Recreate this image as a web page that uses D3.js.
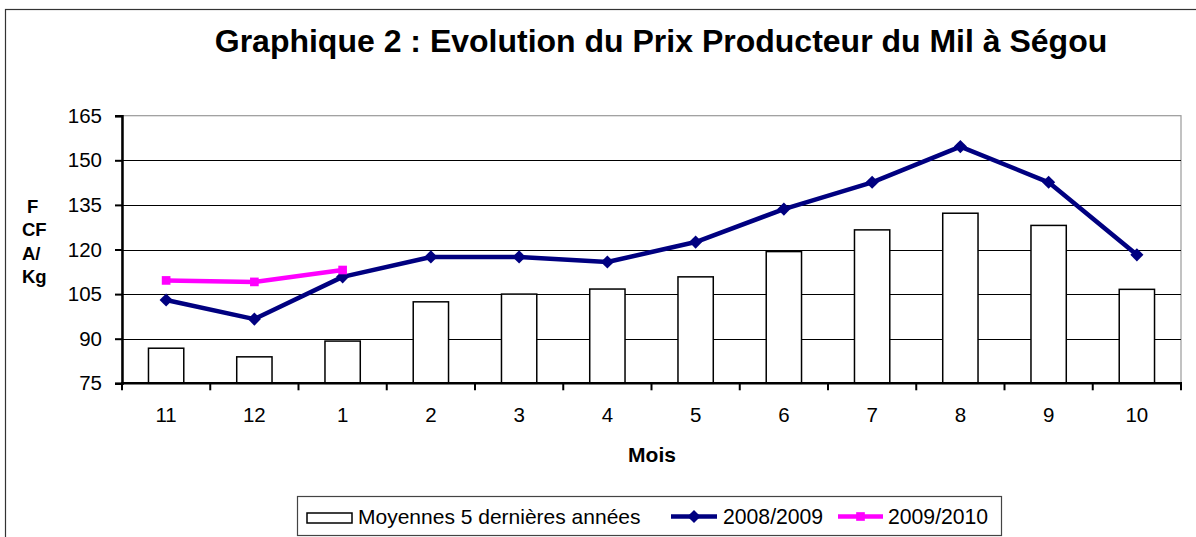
<!DOCTYPE html>
<html>
<head>
<meta charset="utf-8">
<script src="https://cdn.jsdelivr.net/npm/d3@7"></script>
<style>
  html, body { margin: 0; padding: 0; background: #fff; }
  svg { display: block; font-family: "Liberation Sans", Arial, sans-serif; }
</style>
</head>
<body>
<svg id="chart" width="1196" height="537"></svg>
<script>
const months = ["11", "12", "1", "2", "3", "4", "5", "6", "7", "8", "9", "10"];
const moyennes = [86.8, 83.9, 89.2, 102.4, 105, 106.7, 110.8, 119.3, 126.6, 132.2, 128.1, 106.6];
const prix0809 = [103, 96.6, 110.8, 117.5, 117.5, 115.8, 122.5, 133.6, 142.6, 154.6, 142.6, 118.2];
const prix0910 = [109.6, 109.1, 113.1];
const yTicks = [75, 90, 105, 120, 135, 150, 165];

const svg = d3.select("#chart");
const plotL = 122, plotR = 1181, plotT = 115.7, plotB = 383.3;

const x = d3.scaleBand().domain(months).range([plotL, plotR]).paddingInner(0.6).paddingOuter(0.3);
const y = d3.scaleLinear().domain([75, 165]).range([plotB, plotT]);
const cx = d => x(d) + x.bandwidth() / 2;

// cadre extérieur
svg.append("rect")
  .attr("x", 5.5).attr("y", 9.5).attr("width", 1300).attr("height", 700)
  .attr("fill", "none").attr("stroke", "#333").attr("stroke-width", 1.2);

// titre
svg.append("text")
  .attr("x", 661).attr("y", 52)
  .attr("text-anchor", "middle")
  .attr("font-size", 32).attr("font-weight", "bold")
  .text("Graphique 2 : Evolution du Prix Producteur du Mil à Ségou");

// zone de tracé
svg.append("rect")
  .attr("x", plotL).attr("y", plotT).attr("width", plotR - plotL).attr("height", plotB - plotT)
  .attr("fill", "none").attr("stroke", "#999").attr("stroke-width", 1.2);

// grille
svg.append("g")
  .selectAll("line")
  .data(yTicks.filter(t => t > 75 && t < 165))
  .join("line")
  .attr("x1", plotL).attr("x2", plotR)
  .attr("y1", d => Math.round(y(d)) + 0.5).attr("y2", d => Math.round(y(d)) + 0.5)
  .attr("stroke", "#000").attr("stroke-width", 1);

// axe Y
const yAxis = svg.append("g")
  .attr("transform", `translate(${plotL},0)`)
  .call(d3.axisLeft(y).tickValues(yTicks).tickSize(7).tickPadding(13));
yAxis.select(".domain").attr("stroke", "#000").attr("stroke-width", 2.5);
yAxis.selectAll(".tick line").attr("stroke", "#000").attr("stroke-width", 2);
yAxis.selectAll(".tick text").attr("font-size", 20.5).attr("font-family", "Liberation Sans, Arial, sans-serif").attr("fill", "#000");

// barres
svg.append("g")
  .selectAll("rect")
  .data(moyennes)
  .join("rect")
  .attr("x", (d, i) => x(months[i]))
  .attr("y", d => y(d))
  .attr("width", x.bandwidth())
  .attr("height", d => plotB - y(d))
  .attr("fill", "#fff").attr("stroke", "#000").attr("stroke-width", 1.5);

// axe X
const xg = svg.append("g");
xg.append("line")
  .attr("x1", plotL - 1).attr("x2", plotR + 1).attr("y1", plotB).attr("y2", plotB)
  .attr("stroke", "#000").attr("stroke-width", 2.5);
xg.selectAll("line.tick")
  .data(d3.range(months.length + 1))
  .join("line")
  .attr("class", "tick")
  .attr("x1", i => plotL + i * x.step()).attr("x2", i => plotL + i * x.step())
  .attr("y1", plotB).attr("y2", plotB + 7)
  .attr("stroke", "#000").attr("stroke-width", 2);
xg.selectAll("text")
  .data(months)
  .join("text")
  .attr("x", d => cx(d)).attr("y", 421.5)
  .attr("text-anchor", "middle").attr("font-size", 20.5)
  .text(d => d);

// titres des axes
svg.append("text")
  .attr("x", 652).attr("y", 462)
  .attr("text-anchor", "middle").attr("font-size", 21).attr("font-weight", "bold")
  .text("Mois");

const yTitle = ["F", "CF", "A/", "Kg"];
svg.append("g")
  .selectAll("text")
  .data(yTitle)
  .join("text")
  .attr("x", (d, i) => i === 0 ? 27 : 22)
  .attr("y", (d, i) => 212.5 + i * 23.5)
  .attr("font-size", 18.5).attr("font-weight", "bold")
  .text(d => d);

// lignes
const line = d3.line().x((d, i) => cx(months[i])).y(d => y(d));
const diamond = d3.symbol().type(d3.symbolDiamond2).size(110);
const square = d3.symbol().type(d3.symbolSquare).size(75);

svg.append("path")
  .datum(prix0809)
  .attr("d", line)
  .attr("fill", "none").attr("stroke", "#000080").attr("stroke-width", 4.5).attr("stroke-linejoin", "round");
svg.append("g")
  .selectAll("path")
  .data(prix0809)
  .join("path")
  .attr("transform", (d, i) => `translate(${cx(months[i])},${y(d)})`)
  .attr("d", diamond).attr("fill", "#000080");

svg.append("path")
  .datum(prix0910)
  .attr("d", line)
  .attr("fill", "none").attr("stroke", "#FF00FF").attr("stroke-width", 4.5);
svg.append("g")
  .selectAll("path")
  .data(prix0910)
  .join("path")
  .attr("transform", (d, i) => `translate(${cx(months[i])},${y(d)})`)
  .attr("d", square).attr("fill", "#FF00FF");

// légende
const lg = svg.append("g");
lg.append("rect")
  .attr("x", 297.5).attr("y", 496.5).attr("width", 704).attr("height", 39)
  .attr("fill", "#fff").attr("stroke", "#444").attr("stroke-width", 1.2);
lg.append("rect")
  .attr("x", 307).attr("y", 513).attr("width", 45).attr("height", 10)
  .attr("fill", "#fff").attr("stroke", "#000").attr("stroke-width", 1.5);
lg.append("text").attr("x", 358).attr("y", 524).attr("font-size", 21).text("Moyennes 5 dernières années");

lg.append("line").attr("x1", 671).attr("x2", 717).attr("y1", 516.5).attr("y2", 516.5)
  .attr("stroke", "#000080").attr("stroke-width", 4.5);
lg.append("path").attr("transform", "translate(694,516.5)").attr("d", diamond).attr("fill", "#000080");
lg.append("text").attr("x", 723).attr("y", 524).attr("font-size", 21.2).text("2008/2009");

lg.append("line").attr("x1", 838).attr("x2", 883).attr("y1", 516.5).attr("y2", 516.5)
  .attr("stroke", "#FF00FF").attr("stroke-width", 4.5);
lg.append("path").attr("transform", "translate(860.5,516.5)").attr("d", square).attr("fill", "#FF00FF");
lg.append("text").attr("x", 888).attr("y", 524).attr("font-size", 21.2).text("2009/2010");
</script>
</body>
</html>
